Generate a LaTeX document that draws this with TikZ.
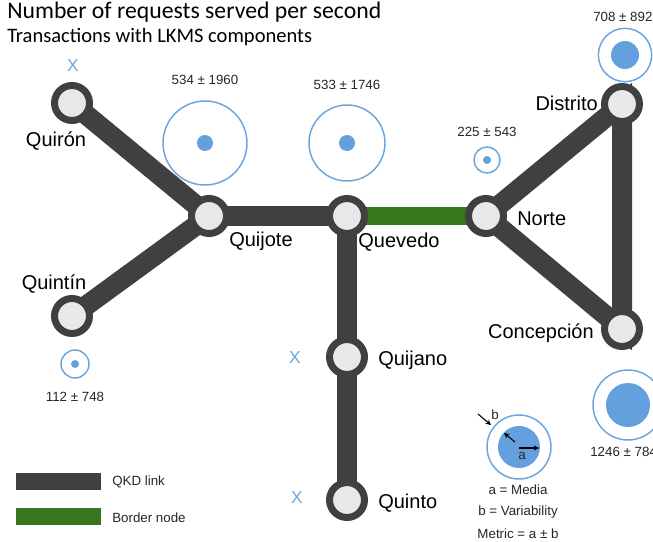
\documentclass[tikz,border=0pt]{standalone}
\usepackage{fontspec}
\setmainfont{Liberation Sans}
\newfontfamily\titlefont{Carlito}
\usetikzlibrary{arrows.meta}
\definecolor{linkgray}{RGB}{64,64,64}
\definecolor{nodefill}{RGB}{232,232,232}
\definecolor{bordergreen}{RGB}{56,118,29}
\definecolor{metricblue}{RGB}{108,165,220}
\definecolor{dotblue}{RGB}{100,160,222}
\begin{document}
\begin{tikzpicture}[x=0.75pt,y=-0.75pt,
  station/.style={circle, draw=linkgray, fill=nodefill, line width=5.25pt, minimum size=26.25pt, inner sep=0pt},
  qkd/.style={draw=linkgray, line width=15pt},
  borderlink/.style={draw=bordergreen, line width=14pt},
  stname/.style={font=\fontsize{15pt}{18pt}\selectfont, inner sep=0pt},
  metricval/.style={font=\fontsize{10pt}{12pt}\selectfont, inner sep=0pt, text=black!85},
  metricring/.style={draw=metricblue, line width=1.1pt},
  metricdot/.style={fill=dotblue},
  nomark/.style={font=\fontsize{13pt}{15pt}\selectfont, text=metricblue, inner sep=0pt},
  legtext/.style={font=\fontsize{10pt}{12pt}\selectfont, inner sep=0pt, text=black!85}]
\useasboundingbox (0,0) rectangle (653,542);

% title
\node[anchor=west, inner sep=0pt, font=\titlefont\fontsize{17.8pt}{20pt}\selectfont] (title) at (7,12) {Number of requests served per second};
\node[anchor=west, inner sep=0pt, font=\titlefont\fontsize{15.4pt}{18pt}\selectfont] (subtitle) at (7,37) {Transactions with LKMS components};

% station positions
\coordinate (pQuiron) at (72,103);
\coordinate (pQuijote) at (209,216);
\coordinate (pQuevedo) at (347,216);
\coordinate (pNorte) at (486,216);
\coordinate (pDistrito) at (622,104);
\coordinate (pConcepcion) at (622,329);
\coordinate (pQuintin) at (72,316);
\coordinate (pQuijano) at (347,357);
\coordinate (pQuinto) at (347,500);

% links
\draw[qkd] (pQuiron) -- (pQuijote);
\draw[qkd] (pQuintin) -- (pQuijote);
\draw[qkd] (pQuijote) -- (pQuevedo);
\draw[qkd] (pQuevedo) -- (pQuijano) -- (pQuinto);
\draw[borderlink] (pQuevedo) -- (pNorte);
\draw[qkd] (pNorte) -- (pDistrito) -- (pConcepcion) -- cycle;

% stations
\node[station] (Quiron) at (pQuiron) {};
\node[station] (Quijote) at (pQuijote) {};
\node[station] (Quevedo) at (pQuevedo) {};
\node[station] (Norte) at (pNorte) {};
\node[station] (Distrito) at (pDistrito) {};
\node[station] (Concepcion) at (pConcepcion) {};
\node[station] (Quintin) at (pQuintin) {};
\node[station] (Quijano) at (pQuijano) {};
\node[station] (Quinto) at (pQuinto) {};

% station names
\node[stname] (lQuiron) at (56,141) {Quirón};
\node[stname] (lQuijote) at (261,241) {Quijote};
\node[stname] (lQuevedo) at (399,242) {Quevedo};
\node[stname, anchor=west] (lNorte) at (517,219) {Norte};
\node[stname, anchor=east] (lDistrito) at (598,103) {Distrito};
\node[stname, anchor=east] (lConcepcion) at (594,333) {Concepción};
\node[stname] (lQuintin) at (54,284) {Quintín};
\node[stname, anchor=west] (lQuijano) at (378,360) {Quijano};
\node[stname, anchor=west] (lQuinto) at (378,503) {Quinto};

% stations without a measurement
\node[nomark] (xQuiron) at (73,66) {X};
\node[nomark] (xQuijano) at (295,358) {X};
\node[nomark] (xQuinto) at (297,498) {X};

% metrics: media (filled dot) and variability (ring)
\draw[metricring] (205,143) circle[radius=31.5pt];
\fill[metricdot] (205,143) circle[radius=6pt];
\node[metricval] (m534) at (205,80) {534 ± 1960};

\draw[metricring] (347,143) circle[radius=28.5pt];
\fill[metricdot] (347,143) circle[radius=6pt];
\node[metricval] (m533) at (347,85) {533 ± 1746};

\draw[metricring] (487,160) circle[radius=9.75pt];
\fill[metricdot] (487,160) circle[radius=3pt];
\node[metricval] (m225) at (487,132) {225 ± 543};

\draw[metricring] (625,55) circle[radius=20pt];
\fill[metricdot] (625,55) circle[radius=10.5pt];
\node[metricval, anchor=west] (m708) at (593,17) {708 ± 892};

\draw[metricring] (628,405) circle[radius=26.25pt];
\fill[metricdot] (628,405) circle[radius=16.5pt];
\node[metricval, anchor=west] (m1246) at (590,452) {1246 ± 784};

\draw[metricring] (75,364) circle[radius=10.5pt];
\fill[metricdot] (75,364) circle[radius=3pt];
\node[metricval] (m112) at (75,397) {112 ± 748};

% legend: metric circle
\draw[metricring] (519,447) circle[radius=24pt];
\fill[metricdot] (519,447) circle[radius=15.75pt];
\draw[-{Stealth[length=4pt,width=4pt]}, line width=0.8pt] (515,442) -- (504,433);
\draw[-{Stealth[length=4pt,width=4pt]}, line width=0.8pt] (519,448) -- (539,448);
\node[legtext] (la) at (522,456) {a};
\draw[-{Stealth[length=4pt,width=4pt]}, line width=0.8pt] (478,414) -- (491,425);
\node[legtext] (lb) at (495,415) {b};
\node[legtext] (lMedia) at (518,490) {a = Media};
\node[legtext] (lVar) at (518,512) {b = Variability};
\node[legtext] (lMetric) at (518,534) {Metric = a ± b};

% legend: link types
\fill[linkgray] (16,473) rectangle (101,490);
\node[legtext, anchor=west] (lQKD) at (112,482) {QKD link};
\fill[bordergreen] (16,508) rectangle (101,525);
\node[legtext, anchor=west] (lBorder) at (112,518) {Border node};
\end{tikzpicture}
\end{document}
